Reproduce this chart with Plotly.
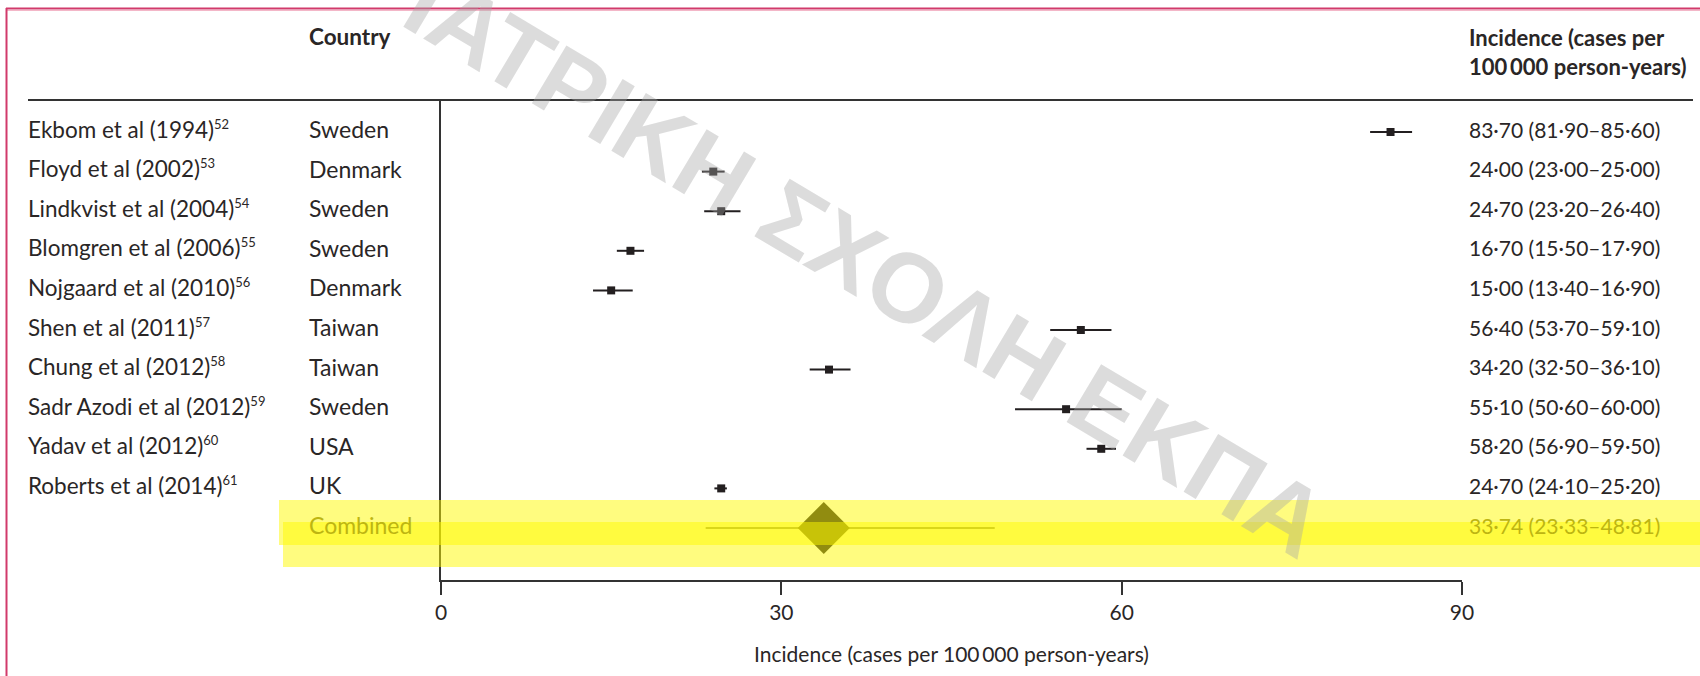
import plotly.graph_objects as go

# ---------------- data ----------------
studies = ["Ekbom et al (1994)", "Floyd et al (2002)", "Lindkvist et al (2004)",
           "Blomgren et al (2006)", "Nojgaard et al (2010)", "Shen et al (2011)",
           "Chung et al (2012)", "Sadr Azodi et al (2012)", "Yadav et al (2012)",
           "Roberts et al (2014)"]
refs = ["52", "53", "54", "55", "56", "57", "58", "59", "60", "61"]
countries = ["Sweden", "Denmark", "Sweden", "Sweden", "Denmark", "Taiwan",
             "Taiwan", "Sweden", "USA", "UK"]
est = [83.70, 24.00, 24.70, 16.70, 15.00, 56.40, 34.20, 55.10, 58.20, 24.70]
lo = [81.90, 23.00, 23.20, 15.50, 13.40, 53.70, 32.50, 50.60, 56.90, 24.10]
hi = [85.60, 25.00, 26.40, 17.90, 16.90, 59.10, 36.10, 60.00, 59.50, 25.20]

combined_label = "Combined"
combined_est = 33.74
combined_lo = 23.33
combined_hi = 48.81

x_ticks = [0, 30, 60, 90]
x_title = "Incidence (cases per 100\u2009000 person-years)"
header_country = "Country"
header_value = "Incidence (cases per<br>100\u2009000 person-years)"
watermark = "ΙΑΤΡΙΚΗ ΣΧΟΛΗ ΕΚΠΑ"

# ---------------- layout geometry (pixels) ----------------
W, H = 1700, 676
L, R, T, B = 441, 238, 100, 96
PW = W - L - R
PH = H - T - B


def px_x(px):
    return (px - L) / PW


def px_y(py):
    return (H - B - py) / PH


def fmt(v):
    return f"{v:.2f}".replace(".", "·")


TXT = "#2a2626"
FONT = "Lato"
rows = list(range(len(studies)))
comb_row = len(studies)
YS = 3  # small upward nudge of row texts

fig = go.Figure()

fig.add_trace(go.Scatter(
    x=est, y=rows, mode="markers",
    marker=dict(symbol="square", size=8, color="#231f20"),
    error_x=dict(type="data", symmetric=False,
                 array=[h - e for h, e in zip(hi, est)],
                 arrayminus=[e - l for e, l in zip(est, lo)],
                 thickness=2, width=0, color="#231f20"),
    showlegend=False, hoverinfo="skip"))

fig.add_trace(go.Scatter(
    x=[combined_est], y=[comb_row], mode="markers",
    marker=dict(symbol="diamond", size=40, color="#231f20", line=dict(width=0)),
    error_x=dict(type="data", symmetric=False,
                 array=[combined_hi - combined_est],
                 arrayminus=[combined_est - combined_lo],
                 thickness=1.5, width=0, color="#3a3a3a"),
    showlegend=False, hoverinfo="skip"))

ann = []
for i in rows:
    ann.append(dict(x=px_x(26), y=i, xref="paper", yref="y", xanchor="left",
                    yanchor="middle", showarrow=False, yshift=YS,
                    text=f"{studies[i]}<sup><span style='font-size:13px'>{refs[i]}</span></sup>",
                    font=dict(family=FONT, size=22.5, color=TXT)))
    ann.append(dict(x=px_x(307), y=i, xref="paper", yref="y", xanchor="left",
                    yanchor="middle", showarrow=False, yshift=YS, text=countries[i],
                    font=dict(family=FONT, size=23, color=TXT)))
    ann.append(dict(x=px_x(1467), y=i, xref="paper", yref="y", xanchor="left",
                    yanchor="middle", showarrow=False, yshift=YS,
                    text=f"{fmt(est[i])} ({fmt(lo[i])}–{fmt(hi[i])})",
                    font=dict(family=FONT, size=21, color=TXT)))

COMB = "#bdb512"
ann.append(dict(x=px_x(307), y=comb_row, xref="paper", yref="y", xanchor="left",
                yanchor="middle", showarrow=False, yshift=YS, text=combined_label,
                font=dict(family=FONT, size=23, color=COMB)))
ann.append(dict(x=px_x(1467), y=comb_row, xref="paper", yref="y", xanchor="left",
                yanchor="middle", showarrow=False, yshift=YS,
                text=f"{fmt(combined_est)} ({fmt(combined_lo)}–{fmt(combined_hi)})",
                font=dict(family=FONT, size=21, color=COMB)))

ann.append(dict(x=px_x(307), y=px_y(37), xref="paper", yref="paper", xanchor="left",
                yanchor="middle", showarrow=False, text=f"<b>{header_country}</b>",
                font=dict(family=FONT, size=22.5, color=TXT)))
ann.append(dict(x=px_x(1467), y=px_y(52), xref="paper", yref="paper", xanchor="left",
                yanchor="middle", showarrow=False, align="left",
                text=f"<b>{header_value}</b>",
                font=dict(family=FONT, size=22, color=TXT)))

# watermark
ann.append(dict(x=px_x(866), y=px_y(263), xref="paper", yref="paper",
                xanchor="center", yanchor="middle", showarrow=False,
                text=f"<b>{watermark}</b>", textangle=30.8,
                font=dict(family="Liberation Sans", size=98,
                          color="rgba(165,165,165,0.39)")))

shapes = [
    # header rule
    dict(type="line", xref="paper", yref="paper", x0=px_x(28), x1=px_x(1693),
         y0=px_y(100), y1=px_y(100), line=dict(color="#333333", width=2)),
    # frame (pink)
    dict(type="line", xref="paper", yref="paper", x0=px_x(6), x1=px_x(1700),
         y0=px_y(8.5), y1=px_y(8.5), line=dict(color="#d13a6b", width=2)),
    dict(type="line", xref="paper", yref="paper", x0=px_x(6), x1=px_x(1700),
         y0=px_y(10.5), y1=px_y(10.5), line=dict(color="#f3b7c8", width=1)),
    dict(type="line", xref="paper", yref="paper", x0=px_x(6.5), x1=px_x(6.5),
         y0=px_y(8), y1=px_y(676), line=dict(color="#d13a6b", width=2)),
    # yellow highlight
    dict(type="rect", xref="paper", yref="paper", layer="above",
         x0=px_x(279), x1=px_x(1700), y0=px_y(545), y1=px_y(500),
         fillcolor="rgba(255,250,0,0.5)", line=dict(width=0)),
    dict(type="rect", xref="paper", yref="paper", layer="above",
         x0=px_x(283), x1=px_x(1700), y0=px_y(567), y1=px_y(522),
         fillcolor="rgba(255,250,0,0.5)", line=dict(width=0)),
]

fig.update_layout(
    width=W, height=H,
    margin=dict(l=L, r=R, t=T, b=B, pad=0),
    paper_bgcolor="white", plot_bgcolor="white",
    showlegend=False,
    annotations=ann, shapes=shapes,
    xaxis=dict(range=[0, 90], tickvals=x_ticks, ticktext=[str(t) for t in x_ticks],
               showgrid=False, zeroline=False, showline=True, linecolor="#333333",
               linewidth=2, ticks="outside", ticklen=13, tickwidth=2,
               tickcolor="#333333", ticklabelstandoff=0,
               tickfont=dict(family=FONT, size=21, color=TXT),
               title=dict(text=x_title, standoff=24,
                          font=dict(family=FONT, size=21, color=TXT))),
    yaxis=dict(range=[11.313, -0.808], showgrid=False, zeroline=False,
               showline=True, linecolor="#333333", linewidth=2,
               showticklabels=False, ticks=""),
)

fig.write_html("out.html", config={"displayModeBar": False},
               post_script="document.body.style.margin='0px';document.body.style.overflow='hidden';")
